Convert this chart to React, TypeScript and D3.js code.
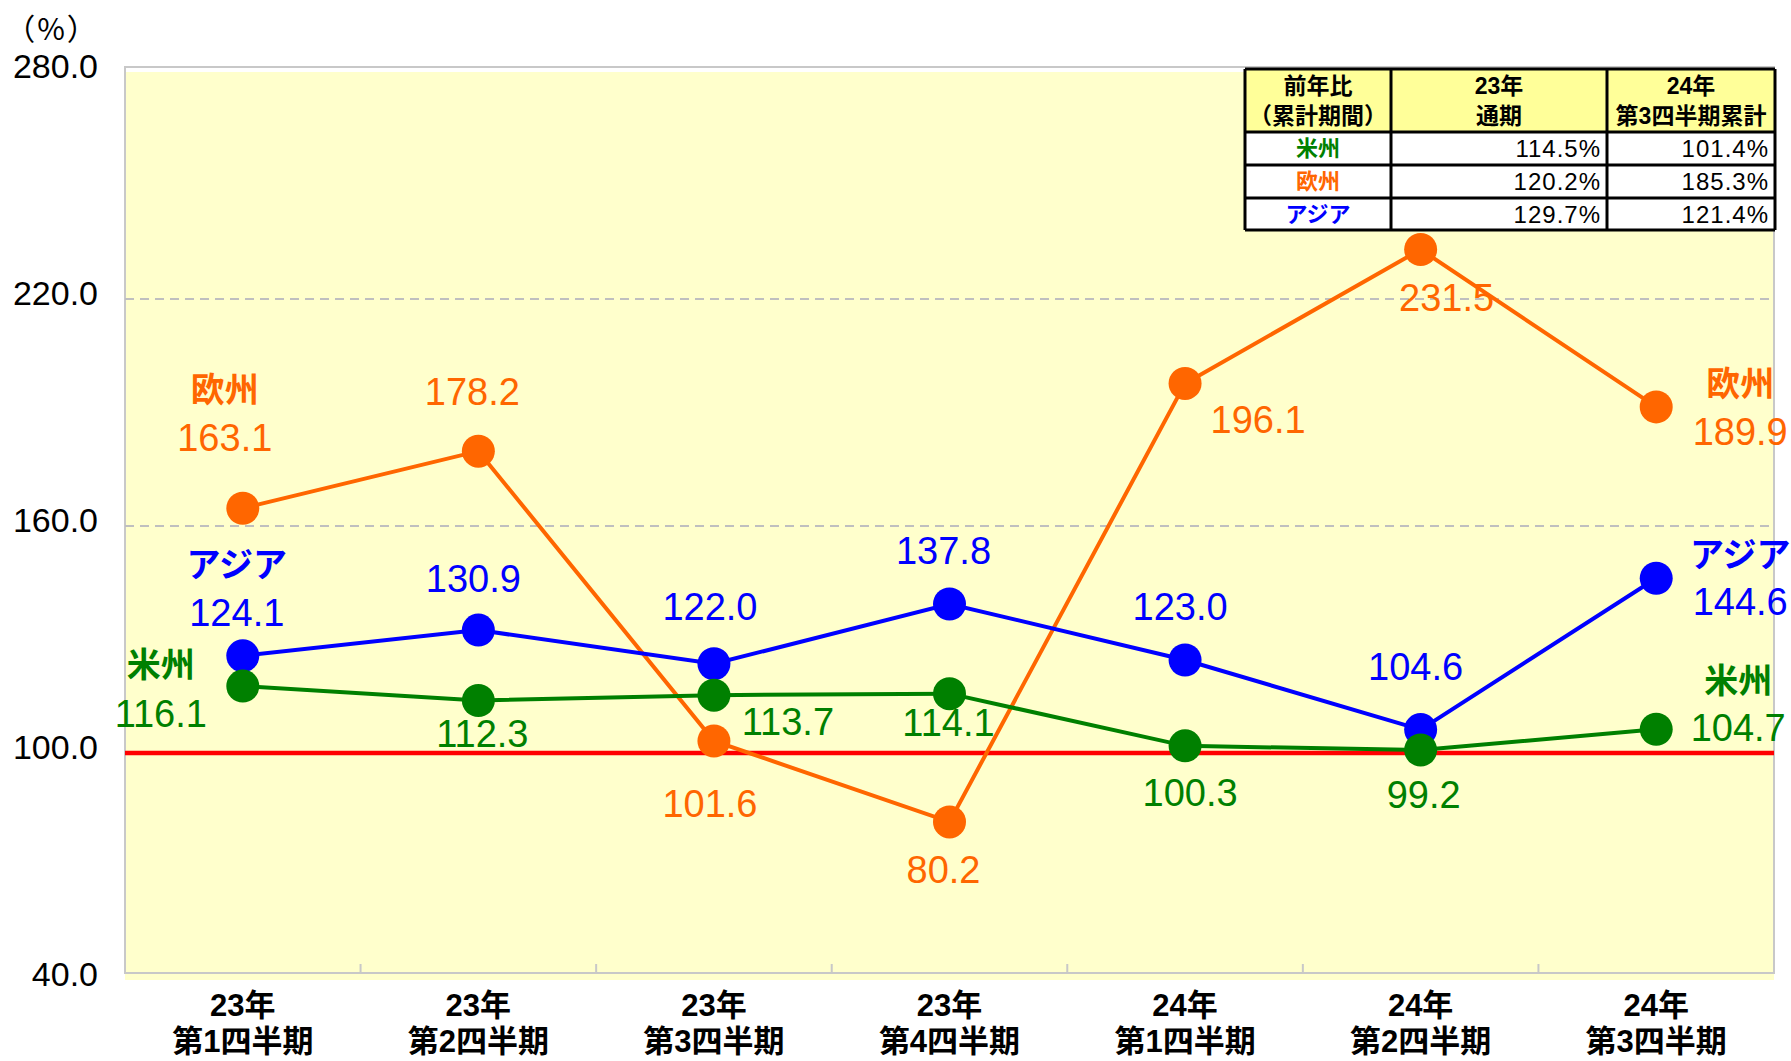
import React from 'react'
import * as d3 from 'd3'

// quarters on the x axis (two text lines each)
const yearLabels = ['23年', '23年', '23年', '23年', '24年', '24年', '24年']
const quarterLabels = ['第1四半期', '第2四半期', '第3四半期', '第4四半期', '第1四半期', '第2四半期', '第3四半期']

// year-on-year ratio (%)
const americas = [116.1, 112.3, 113.7, 114.1, 100.3, 99.2, 104.7]
const europe = [163.1, 178.2, 101.6, 80.2, 196.1, 231.5, 189.9]
const asia = [124.1, 130.9, 122.0, 137.8, 123.0, 104.6, 144.6]

const yTicks = [40, 100, 160, 220, 280]
const dashedTicks = [160, 220]
const baseLine = 100

// summary table
const tableHead = [['前年比', '（累計期間）'], ['23年', '通期'], ['24年', '第3四半期累計']]
const tableRegions = ['米州', '欧州', 'アジア']
const fy23Values = ['114.5%', '120.2%', '129.7%']
const fy24Q3Values = ['101.4%', '185.3%', '121.4%']

const W = 1791
const H = 1061
const FONT = "'Liberation Sans', 'Noto Sans CJK JP', sans-serif"

const plot = { left: 125, right: 1774, top: 66, bottom: 974 }
const gridShift = 6 // excel draws the plot fill / gridlines a few px lower than the markers

// label offsets from the marker centre [dx, dy], name label sits above the first/last value
const series = [
  {
    name: '欧州', color: '#FF6600', values: europe,
    offsets: [[-18, -70], [-6, -59], [-4, 63], [-6, 48], [73, 37], [26, 49], [84, 25]],
    nameDy: [-48, -48],
  },
  {
    name: 'アジア', color: '#0000FF', values: asia,
    offsets: [[-6, -43], [-5, -51], [-4, -57], [-6, -53], [-5, -53], [-5, -63], [84, 24]],
    nameDy: [-48, -47],
  },
  {
    name: '米州', color: '#008000', values: americas,
    offsets: [[-82, 28], [4, 34], [74, 27], [-1, 29], [5, 47], [3, 45], [82, -1]],
    nameDy: [-49, -47],
  },
]

export default function App() {
  const x = d3.scaleBand<number>()
    .domain(d3.range(yearLabels.length))
    .range([plot.left, plot.right])
  const cx = (i: number) => (x(i) as number) + x.bandwidth() / 2

  const y = d3.scaleLinear().domain([40, 280]).range([plot.bottom, plot.top])
  const gy = (v: number) => y(v) + gridShift

  const line = d3.line<number>()
    .x((_, i) => cx(i))
    .y(d => y(d))

  // table geometry
  const colX = [1245, 1391, 1607, 1775]
  const rowY = [69, 132, 165, 198, 230]

  return (
    <svg width={W} height={H} style={{ position: 'absolute', left: 0, top: 0, background: '#fff' }}
      fontFamily={FONT}>
      {/* plot area */}
      <rect x={plot.left} y={plot.top + gridShift} width={plot.right - plot.left}
        height={plot.bottom - plot.top} fill="#FFFFCC" />
      <rect x={plot.left} y={plot.top + 1} width={plot.right - plot.left}
        height={plot.bottom - plot.top - 2} fill="none" stroke="#C8C8C8" strokeWidth={2} />

      {dashedTicks.map(t => (
        <line key={t} x1={plot.left} x2={plot.right} y1={gy(t)} y2={gy(t)}
          stroke="#BFBFBF" strokeWidth={2} strokeDasharray="9 6" />
      ))}

      {/* x tick marks at category boundaries */}
      {d3.range(1, yearLabels.length).map(i => (
        <line key={i} x1={x(i)} x2={x(i)} y1={plot.bottom - 1} y2={plot.bottom - 10}
          stroke="#C8C8C8" strokeWidth={2} />
      ))}

      {/* y labels */}
      <text x={52} y={27} fontSize={30} textAnchor="middle" dominantBaseline="central"
        fontFamily="'Noto Sans CJK JP', sans-serif" letterSpacing={2}>（%）</text>
      {yTicks.map(t => (
        <text key={t} x={98} y={y(t)} fontSize={34} textAnchor="end" dominantBaseline="central">
          {t.toFixed(1)}
        </text>
      ))}

      {/* x labels */}
      {yearLabels.map((yl, i) => (
        <g key={i} fontWeight="bold" fontSize={31} textAnchor="middle">
          <text x={cx(i)} y={1005} dominantBaseline="central">{yl}</text>
          <text x={cx(i)} y={1041} dominantBaseline="central">{quarterLabels[i]}</text>
        </g>
      ))}

      {/* 100% line */}
      <line x1={plot.left} x2={plot.right} y1={gy(baseLine)} y2={gy(baseLine)}
        stroke="#FF0000" strokeWidth={4.5} />

      {/* series lines + markers */}
      {series.map(s => (
        <g key={s.name}>
          <path d={line(s.values) || ''} fill="none" stroke={s.color} strokeWidth={4} />
          {s.values.map((v, i) => (
            <circle key={i} cx={cx(i)} cy={y(v)} r={16.5} fill={s.color} />
          ))}
        </g>
      ))}

      {/* data labels */}
      {series.map(s => (
        <g key={s.name + '-lbl'} fill={s.color} textAnchor="middle">
          {s.values.map((v, i) => {
            const [dx, dy] = s.offsets[i]
            const lx = cx(i) + dx
            const ly = y(v) + dy
            const isEnd = i === 0 || i === s.values.length - 1
            return (
              <g key={i}>
                {isEnd && (
                  <text x={lx} y={ly + s.nameDy[i === 0 ? 0 : 1]} fontSize={34} fontWeight="bold"
                    dominantBaseline="central">{s.name}</text>
                )}
                <text x={lx} y={ly} fontSize={38} dominantBaseline="central">{v.toFixed(1)}</text>
              </g>
            )
          })}
        </g>
      ))}

      {/* summary table */}
      <g>
        <rect x={colX[0]} y={rowY[0]} width={colX[3] - colX[0]} height={rowY[1] - rowY[0]} fill="#FFFF99" />
        <rect x={colX[0]} y={rowY[1]} width={colX[3] - colX[0]} height={rowY[4] - rowY[1]} fill="#FFFFFF" />
        {tableHead.map((lines, c) => (
          <g key={c} fontWeight="bold" fontSize={23} textAnchor="middle">
            <text x={(colX[c] + colX[c + 1]) / 2} y={86} dominantBaseline="central">{lines[0]}</text>
            <text x={(colX[c] + colX[c + 1]) / 2} y={116} dominantBaseline="central">{lines[1]}</text>
          </g>
        ))}
        {tableRegions.map((r, i) => {
          const cy = (rowY[i + 1] + rowY[i + 2]) / 2
          return (
            <g key={r}>
              <text x={(colX[0] + colX[1]) / 2} y={cy} fontSize={22} fontWeight="bold"
                textAnchor="middle" dominantBaseline="central" fill={series.find(s => s.name === r)?.color}>
                {r}
              </text>
              <text x={colX[2] - 6} y={cy} fontSize={24} textAnchor="end" dominantBaseline="central"
                letterSpacing={1}>{fy23Values[i]}</text>
              <text x={colX[3] - 6} y={cy} fontSize={24} textAnchor="end" dominantBaseline="central"
                letterSpacing={1}>{fy24Q3Values[i]}</text>
            </g>
          )
        })}
        {rowY.map((ry, i) => (
          <line key={'r' + i} x1={colX[0]} x2={colX[3]} y1={ry} y2={ry} stroke="#000" strokeWidth={3} />
        ))}
        {colX.map((c, i) => (
          <line key={'c' + i} x1={c} x2={c} y1={rowY[0]} y2={rowY[4]} stroke="#000" strokeWidth={3} />
        ))}
      </g>
    </svg>
  )
}
